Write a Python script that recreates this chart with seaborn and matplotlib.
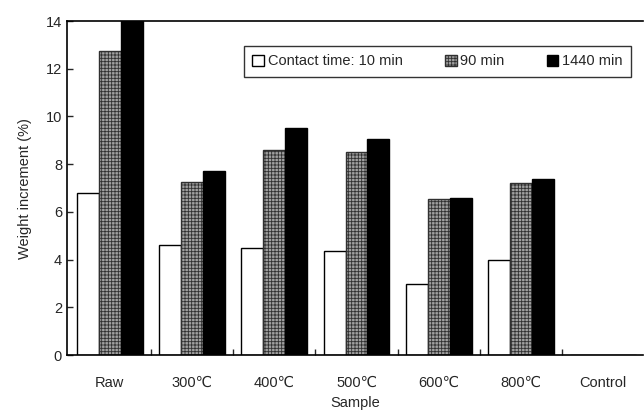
import matplotlib
matplotlib.use("Agg")
import matplotlib.pyplot as plt
import seaborn as sns
import pandas as pd

samples = ["Raw", "300\u2103", "400\u2103", "500\u2103", "600\u2103", "800\u2103", "Control"]
t10 = [6.8, 4.6, 4.5, 4.35, 3.0, 4.0, 0.0]
t90 = [12.75, 7.25, 8.6, 8.5, 6.55, 7.2, 0.0]
t1440 = [14.0, 7.7, 9.5, 9.05, 6.6, 7.4, 0.0]
series = ["Contact time: 10 min", "90 min", "1440 min"]

rows = []
for s, vals in zip(series, [t10, t90, t1440]):
    for c, v in zip(samples, vals):
        rows.append({"Sample": c, "Series": s, "Value": v})
df = pd.DataFrame(rows)

sns.set_style("ticks")
plt.rcParams["font.family"] = ["Liberation Sans", "DejaVu Sans"]
plt.rcParams["hatch.linewidth"] = 0.6

fig = plt.figure(figsize=(6.44, 4.12), dpi=100)
ax = fig.add_axes([0.104, 0.138, 0.894, 0.811])

sns.barplot(data=df, x="Sample", y="Value", hue="Series", order=samples,
            hue_order=series, width=0.8, ax=ax, legend=False, errorbar=None)

styles = [
    dict(facecolor="white", edgecolor="black", hatch=None),
    dict(facecolor="#a0a0a0", edgecolor="#303030", hatch="+++++"),
    dict(facecolor="black", edgecolor="black", hatch=None),
]
for cont, st in zip(ax.containers, styles):
    for b in cont:
        b.set_facecolor(st["facecolor"])
        b.set_edgecolor(st["edgecolor"])
        b.set_linewidth(1.0)
        if st["hatch"]:
            b.set_hatch(st["hatch"])

fs = 10.5
ax.set_ylim(0, 14)
ax.set_xlim(-0.52, 6.48)
ax.set_yticks(range(0, 15, 2))
ax.set_xticks([i + 0.5 for i in range(6)], minor=False)
ax.set_xticklabels([])
ax.set_xticks(range(7), minor=True)
ax.set_xticklabels(samples, minor=True, fontsize=fs)
ax.tick_params(axis="x", which="minor", length=0, pad=15)
ax.tick_params(axis="x", which="major", direction="in", length=4, width=1)
ax.tick_params(axis="y", direction="in", length=4, width=1, labelsize=fs)
for sp in ["left", "bottom", "top"]:
    ax.spines[sp].set_linewidth(1.2)
    ax.spines[sp].set_color("black")
ax.spines["right"].set_visible(False)
ax.set_xlabel("Sample", fontsize=fs, labelpad=4)
ax.set_ylabel("Weight increment (%)", fontsize=fs, labelpad=10)

handles = [cont.patches[0] for cont in ax.containers]
leg = ax.legend(handles, series, loc="upper right", bbox_to_anchor=(0.993, 0.948),
                ncol=3, fontsize=fs, frameon=True, fancybox=False,
                handlelength=0.8, handleheight=0.8, handletextpad=0.25,
                columnspacing=2.9, borderpad=0.6)
leg.get_frame().set_edgecolor("black")
leg.get_frame().set_linewidth(1.0)

fig.savefig("out.png", dpi=100)
